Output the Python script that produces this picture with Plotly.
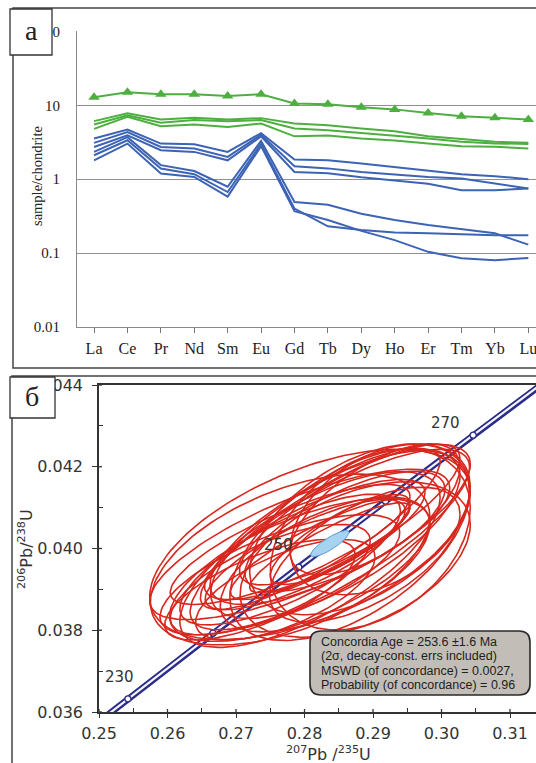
import numpy as np
import plotly.graph_objects as go

FIG_W, FIG_H = 536, 763

# ---------------- (a) chondrite-normalised REE patterns ----------------
ree = ["La", "Ce", "Pr", "Nd", "Sm", "Eu", "Gd", "Tb", "Dy", "Ho", "Er", "Tm", "Yb", "Lu"]

ree_triangles = [12.8, 15.0, 14.1, 14.1, 13.4, 14.1, 10.6, 10.3, 9.4, 8.8, 7.85, 7.1, 6.8, 6.4]

ree_green = [
    [6.1, 7.8, 6.4, 6.8, 6.4, 6.7, 5.65, 5.35, 4.85, 4.45, 3.8, 3.45, 3.2, 3.1],
    [5.5, 7.3, 5.8, 6.3, 6.1, 6.3, 4.85, 4.6, 4.2, 3.9, 3.55, 3.2, 3.05, 3.0],
    [4.8, 7.0, 5.2, 5.5, 5.1, 5.65, 3.8, 3.9, 3.55, 3.35, 3.05, 2.8, 2.75, 2.6],
]

ree_blue = [
    [3.55, 4.7, 3.03, 2.97, 2.34, 4.2, 1.85, 1.8, 1.63, 1.45, 1.32, 1.17, 1.1, 1.0],
    [3.1, 4.35, 2.73, 2.6, 2.0, 4.0, 1.5, 1.4, 1.25, 1.15, 1.07, 1.02, 0.87, 0.75],
    [2.73, 3.93, 2.47, 2.34, 1.8, 3.8, 1.25, 1.2, 1.06, 0.95, 0.87, 0.71, 0.71, 0.75],
    [2.34, 3.7, 1.55, 1.29, 0.79, 3.3, 0.49, 0.45, 0.34, 0.28, 0.24, 0.21, 0.185, 0.13],
    [2.11, 3.36, 1.39, 1.17, 0.67, 3.0, 0.40, 0.23, 0.205, 0.19, 0.185, 0.18, 0.175, 0.175],
    [1.8, 3.03, 1.19, 1.07, 0.58, 2.8, 0.37, 0.28, 0.2, 0.15, 0.104, 0.085, 0.08, 0.086],
]

ree_yticks = [0.01, 0.1, 1, 10, 100]
ree_yticktext = ["0.01", "0.1", "1", "10", "100"]

# ---------------- (б) U-Pb concordia diagram ----------------
conc_age = [220, 230, 240, 250, 260, 270, 280, 290]
conc_x = [0.24192, 0.25422, 0.26664, 0.27917, 0.29183, 0.30462, 0.31753, 0.33057]
conc_y = [0.034717, 0.036323, 0.037932, 0.039543, 0.041157, 0.042773, 0.044392, 0.046014]
conc_labelled = [230, 250, 270]

# individual analyses: centre, 2-sigma half widths, error correlation
ell_x = [0.2793, 0.2808, 0.2837, 0.2823, 0.2852, 0.2866, 0.2881, 0.2874, 0.2896, 0.2910,
         0.2888, 0.2779, 0.2764, 0.2750, 0.2801, 0.2823, 0.2837, 0.2852, 0.2815, 0.2859,
         0.2830, 0.2779, 0.2866, 0.2772, 0.2845, 0.2793, 0.2903, 0.2735, 0.2808, 0.2779]
ell_y = [0.04010, 0.03973, 0.04022, 0.04047, 0.04059, 0.04010, 0.04047, 0.03973, 0.04022, 0.04071,
         0.03985, 0.03973, 0.03936, 0.03924, 0.03985, 0.03998, 0.04002, 0.04022, 0.04022, 0.04042,
         0.03961, 0.04010, 0.04083, 0.03899, 0.04034, 0.03948, 0.04096, 0.03899, 0.04010, 0.03973]
ell_sx = [0.0219, 0.0190, 0.0204, 0.0175, 0.0190, 0.0175, 0.0161, 0.0168, 0.0146, 0.0131,
          0.0139, 0.0161, 0.0175, 0.0146, 0.0146, 0.0131, 0.0117, 0.0102, 0.0161, 0.0146,
          0.0153, 0.0175, 0.0161, 0.0131, 0.0182, 0.0190, 0.0124, 0.0139, 0.0234, 0.0204]
ell_sy = [0.00184, 0.00215, 0.00221, 0.00196, 0.00196, 0.00235, 0.00209, 0.00190, 0.00221, 0.00184,
          0.00165, 0.00160, 0.00147, 0.00135, 0.00135, 0.00123, 0.00110, 0.00110, 0.00147, 0.00147,
          0.00165, 0.00147, 0.00172, 0.00123, 0.00205, 0.00175, 0.00160, 0.00123, 0.00233, 0.00209]
ell_rho = [0.75, 0.70, 0.80, 0.85, 0.75, 0.55, 0.50, 0.45, 0.35, 0.40,
           0.60, 0.75, 0.70, 0.70, 0.80, 0.85, 0.88, 0.80, 0.78, 0.70,
           0.60, 0.80, 0.80, 0.65, 0.70, 0.65, 0.65, 0.70, 0.55, 0.50]

# concordia age ellipse
conc_age_fit = dict(x=0.2837, y=0.04012, sx=0.0028, sy=0.00032, rho=0.85)

uxticks = [0.25, 0.26, 0.27, 0.28, 0.29, 0.30, 0.31]
uxticktext = ["0.25", "0.26", "0.27", "0.28", "0.29", "0.30", "0.31"]
uxminor = [0.255, 0.265, 0.275, 0.285, 0.295, 0.305]
uyticks = [0.036, 0.038, 0.040, 0.042, 0.044]
uyticktext = ["0.036", "0.038", "0.040", "0.042", "0.044"]
uyminor = [0.037, 0.039, 0.041, 0.043]

stats_lines = [
    "Concordia Age = 253.6 \u00b11.6 Ma",
    "(2\u03c3, decay-const. errs included)",
    "MSWD (of concordance) = 0.0027,",
    "Probability (of concordance) = 0.96",
]

# ---------------- helpers ----------------
def px_x(p):
    return p / FIG_W


def px_y(p):
    return 1 - p / FIG_H


def ellipse(cx, cy, sx, sy, rho, n=140):
    t = np.linspace(0, 2 * np.pi, n)
    x = cx + sx * np.cos(t)
    y = cy + sy * (rho * np.cos(t) + np.sqrt(1 - rho ** 2) * np.sin(t))
    return x, y


GREEN = "#4daf3f"
BLUE = "#3d63b5"
RED = "#d8271e"
NAVY = "#2c2c88"
SERIF = "Liberation Serif"
SANS = "DejaVu Sans"

fig = go.Figure()

# ---- panel a traces ----
for vals in ree_blue:
    fig.add_trace(go.Scatter(x=ree, y=vals, mode="lines",
                             line=dict(color=BLUE, width=2), xaxis="x", yaxis="y"))
for vals in ree_green:
    fig.add_trace(go.Scatter(x=ree, y=vals, mode="lines",
                             line=dict(color=GREEN, width=2), xaxis="x", yaxis="y"))
fig.add_trace(go.Scatter(x=ree, y=ree_triangles, mode="lines+markers",
                         line=dict(color=GREEN, width=2),
                         marker=dict(symbol="triangle-up", size=10, color=GREEN),
                         xaxis="x", yaxis="y"))

# ---- panel b traces ----
fig.add_trace(go.Scatter(x=conc_x, y=conc_y, mode="lines",
                         line=dict(color=NAVY, width=6.5), xaxis="x2", yaxis="y2"))
fig.add_trace(go.Scatter(x=conc_x, y=conc_y, mode="lines",
                         line=dict(color="#f4f6ff", width=2.2), xaxis="x2", yaxis="y2"))
fig.add_trace(go.Scatter(x=conc_x, y=conc_y, mode="markers",
                         marker=dict(symbol="circle", size=6, color="white",
                                     line=dict(color=NAVY, width=1.3)),
                         xaxis="x2", yaxis="y2"))

for cx, cy, sx, sy, r in zip(ell_x, ell_y, ell_sx, ell_sy, ell_rho):
    ex, ey = ellipse(cx, cy, sx, sy, r)
    fig.add_trace(go.Scatter(x=ex, y=ey, mode="lines",
                             line=dict(color=RED, width=1.6), xaxis="x2", yaxis="y2"))

ax_, ay_ = ellipse(conc_age_fit["x"], conc_age_fit["y"], conc_age_fit["sx"],
                   conc_age_fit["sy"], conc_age_fit["rho"])
fig.add_trace(go.Scatter(x=ax_, y=ay_, mode="lines", fill="toself",
                         fillcolor="#a6d3ef", line=dict(color="#5a9bd6", width=1),
                         xaxis="x2", yaxis="y2"))

# ---- axes ----
fig.update_layout(
    template="none",
    width=FIG_W, height=FIG_H,
    margin=dict(l=0, r=0, t=0, b=0, pad=0, autoexpand=False),
    paper_bgcolor="white", plot_bgcolor="white",
    showlegend=False,
    xaxis=dict(
        domain=[px_x(77), 1], anchor="y", automargin=False,
        type="category", categoryorder="array", categoryarray=ree,
        range=[-0.51, 13.23],
        showline=True, linecolor="#8a8a8a", linewidth=1.2,
        ticks="outside", ticklen=5, tickcolor="#777", tickwidth=1,
        tickfont=dict(family=SERIF, size=16, color="#222"),
        ticklabelstandoff=2,
        showgrid=False, zeroline=False,
    ),
    yaxis=dict(
        domain=[px_y(327), px_y(31)], anchor="x", automargin=False,
        type="log", range=[-2, 2.005],
        tickvals=ree_yticks, ticktext=ree_yticktext,
        showgrid=True, gridcolor="#8f8f8f", gridwidth=1,
        showline=True, linecolor="#8a8a8a", linewidth=1.2,
        ticks="", ticklabelstandoff=13,
        tickfont=dict(family=SERIF, size=15, color="#222"),
        zeroline=False,
    ),
    xaxis2=dict(
        domain=[px_x(99), 1], anchor="y2", automargin=False,
        range=[0.25, 0.25 + 437 / 6850],
        tickvals=uxticks, ticktext=uxticktext,
        ticks="outside", ticklen=4, tickwidth=1.3, tickcolor="#333",
        minor=dict(tickvals=uxminor, ticks="inside", ticklen=4, tickwidth=1.2,
                   tickcolor="#333", showgrid=False),
        showline=True, linecolor="#333", linewidth=1.6, mirror=True,
        tickfont=dict(family=SANS, size=16, color="#333"),
        ticklabelstandoff=2,
        showgrid=False, zeroline=False,
    ),
    yaxis2=dict(
        domain=[px_y(712), px_y(385)], anchor="x2", automargin=False,
        range=[0.036, 0.044],
        tickvals=uyticks, ticktext=uyticktext,
        ticks="outside", ticklen=5, tickwidth=1.3, tickcolor="#333",
        minor=dict(tickvals=uyminor, ticks="inside", ticklen=4, tickwidth=1.2,
                   tickcolor="#333", showgrid=False),
        showline=True, linecolor="#333", linewidth=1.6,
        tickfont=dict(family=SANS, size=16, color="#333"),
        ticklabelstandoff=6,
        showgrid=False, zeroline=False,
    ),
)

shapes = []
# panel frames
shapes.append(dict(type="rect", xref="paper", yref="paper",
                   x0=px_x(13), x1=px_x(545), y0=px_y(368), y1=px_y(8),
                   line=dict(color="#444", width=1.5), layer="below"))
shapes.append(dict(type="rect", xref="paper", yref="paper",
                   x0=px_x(12), x1=px_x(545), y0=px_y(775), y1=px_y(376),
                   line=dict(color="#444", width=1.5), layer="below"))
# panel letter boxes
shapes.append(dict(type="rect", xref="paper", yref="paper",
                   x0=px_x(10), x1=px_x(52), y0=px_y(55), y1=px_y(9),
                   fillcolor="white", line=dict(color="#333", width=1.3), layer="above"))
shapes.append(dict(type="rect", xref="paper", yref="paper",
                   x0=px_x(10), x1=px_x(55), y0=px_y(418), y1=px_y(377),
                   fillcolor="white", line=dict(color="#333", width=1.3), layer="above"))

# inner halves of the major ticks on the U-Pb axes
for v in uyticks:
    shapes.append(dict(type="line", xref="x2 domain", yref="y2",
                       x0=0, x1=3 / 437, y0=v, y1=v,
                       line=dict(color="#333", width=1.3), layer="above"))
for v in uxticks:
    shapes.append(dict(type="line", xref="x2", yref="y2 domain",
                       x0=v, x1=v, y0=0, y1=3 / 327,
                       line=dict(color="#333", width=1.3), layer="above"))

# rounded statistics box
bx0, bx1, by0, by1, rr = 310, 530, 631, 695, 11
X = lambda p: f"{px_x(p):.5f}"
Y = lambda p: f"{px_y(p):.5f}"
path = (f"M{X(bx0 + rr)},{Y(by0)} L{X(bx1 - rr)},{Y(by0)} Q{X(bx1)},{Y(by0)} {X(bx1)},{Y(by0 + rr)} "
        f"L{X(bx1)},{Y(by1 - rr)} Q{X(bx1)},{Y(by1)} {X(bx1 - rr)},{Y(by1)} "
        f"L{X(bx0 + rr)},{Y(by1)} Q{X(bx0)},{Y(by1)} {X(bx0)},{Y(by1 - rr)} "
        f"L{X(bx0)},{Y(by0 + rr)} Q{X(bx0)},{Y(by0)} {X(bx0 + rr)},{Y(by0)} Z")
shapes.append(dict(type="path", xref="paper", yref="paper", path=path,
                   fillcolor="#c2bdb7", line=dict(color="#2a2a2a", width=1.6), layer="above"))

fig.update_layout(shapes=shapes)

CENTER = dict(xanchor="center", yanchor="middle", showarrow=False)
ann = []
ann.append(dict(text="a", x=px_x(31), y=px_y(31), xref="paper", yref="paper",
                font=dict(family=SERIF, size=28, color="#222"), **CENTER))
ann.append(dict(text="\u0431", x=px_x(32), y=px_y(396), xref="paper", yref="paper",
                font=dict(family=SERIF, size=28, color="#222"), **CENTER))
ann.append(dict(text="sample/chondrite", x=px_x(37), y=px_y(176), xref="paper", yref="paper",
                textangle=-90, font=dict(family=SERIF, size=14.5, color="#222"), **CENTER))
ann.append(dict(text="<sup>206</sup>Pb/<sup>238</sup>U", x=px_x(25), y=px_y(549),
                xref="paper", yref="paper", textangle=-90,
                font=dict(family=SANS, size=16, color="#333"), **CENTER))
ann.append(dict(text="<sup>207</sup>Pb /<sup>235</sup>U", x=px_x(328), y=px_y(753),
                xref="paper", yref="paper",
                font=dict(family=SANS, size=16, color="#333"), **CENTER))

label_offsets = {230: (-8, 22), 250: (-20, 22), 270: (-28, 12)}
for age in conc_labelled:
    i = conc_age.index(age)
    dx, dy = label_offsets[age]
    ann.append(dict(text=str(age), x=conc_x[i], y=conc_y[i], xref="x2", yref="y2",
                    xshift=dx, yshift=dy,
                    font=dict(family=SANS, size=15, color="#333"), **CENTER))

for k, line in enumerate(stats_lines):
    ann.append(dict(text=line, x=px_x(319), y=px_y(642 + 14.4 * k), xref="paper", yref="paper",
                    xanchor="left", yanchor="middle", showarrow=False,
                    font=dict(family="Liberation Sans", size=12.5, color="#1e1e1e")))

fig.update_layout(annotations=ann)

fig.write_html("out.html", config={"displayModeBar": False})
